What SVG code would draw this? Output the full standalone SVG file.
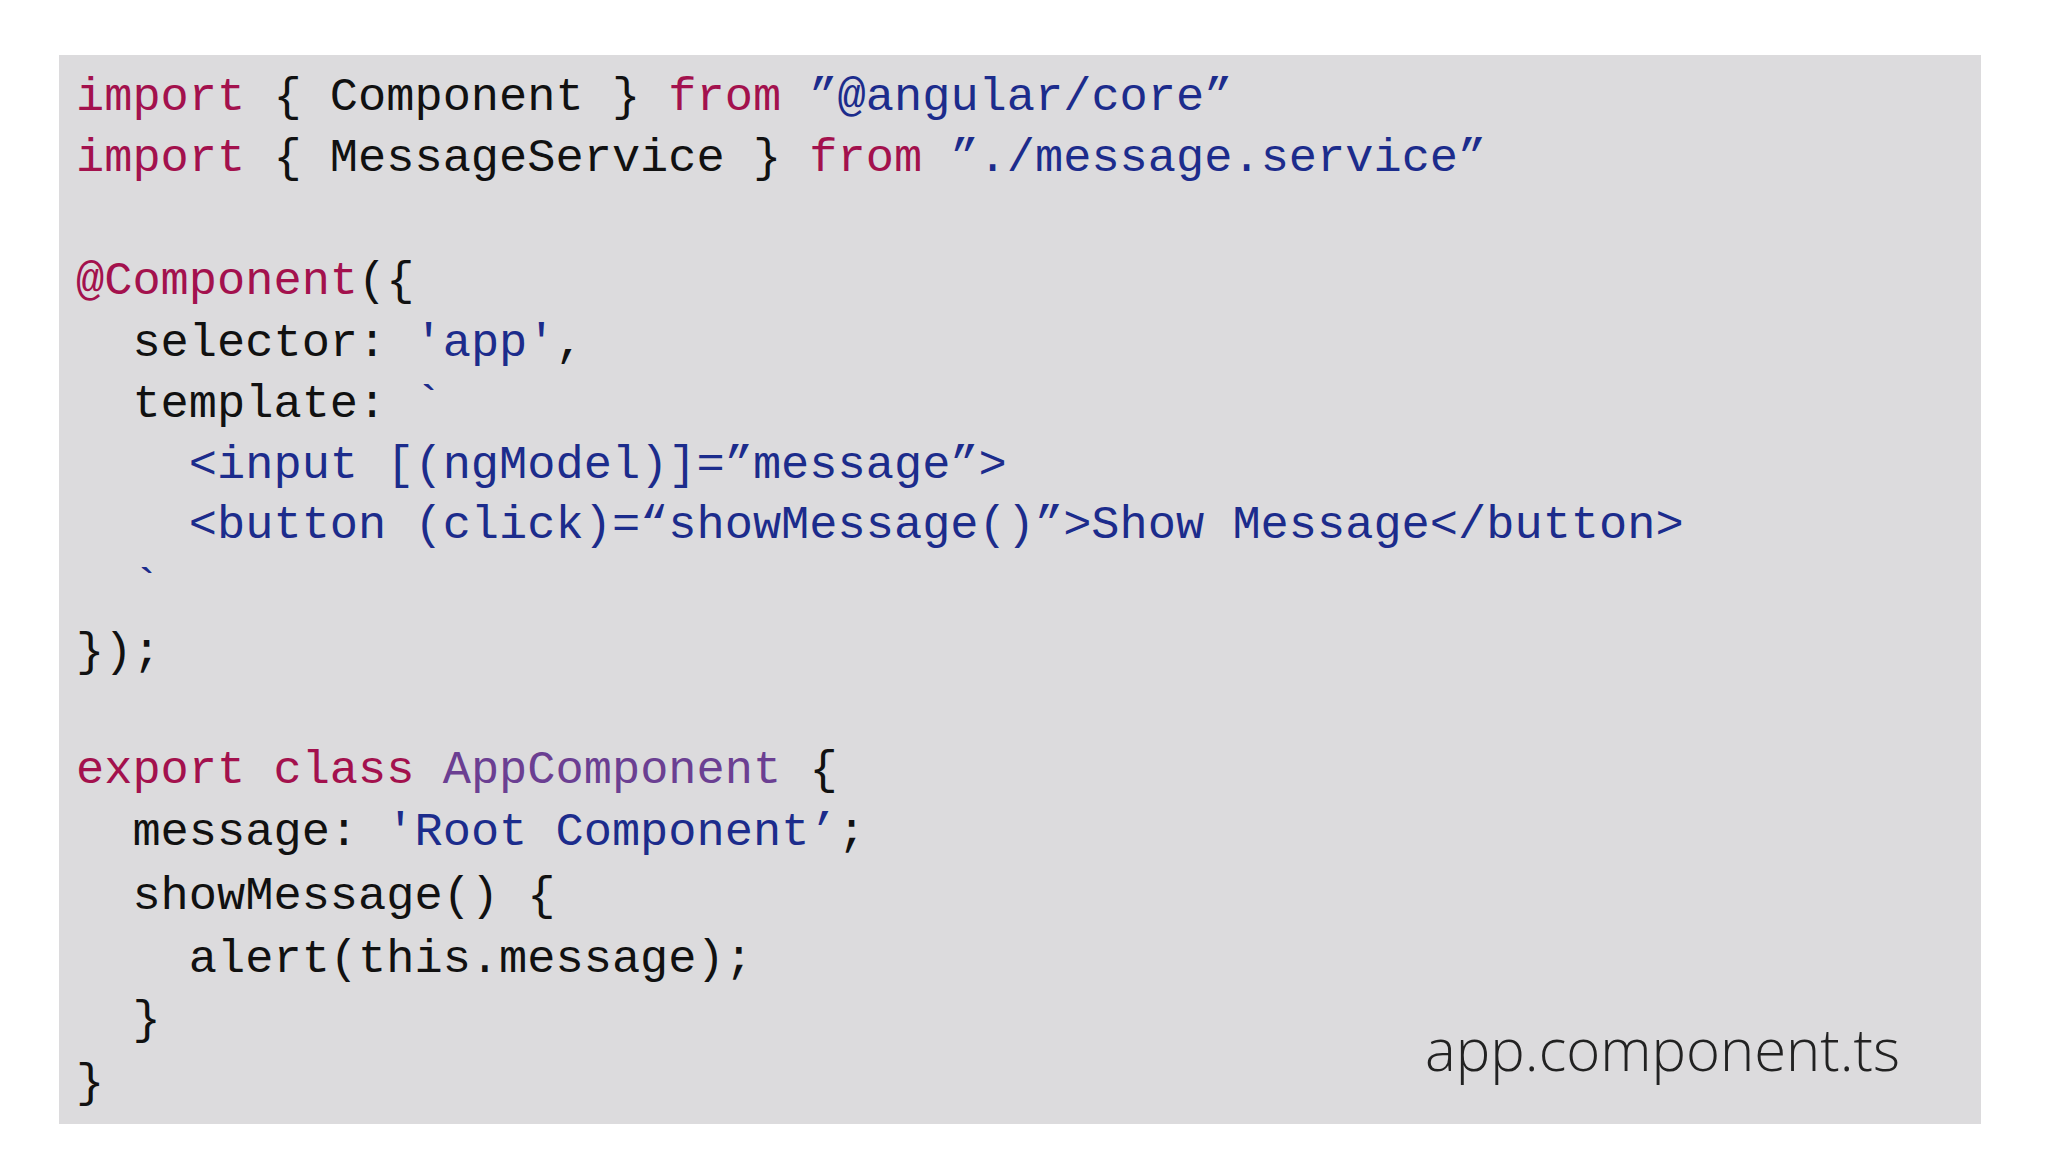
<svg xmlns="http://www.w3.org/2000/svg" width="2048" height="1152" viewBox="0 0 2048 1152">
<style>
.c{font-family:"Liberation Mono","DejaVu Sans Mono",monospace;font-size:47px;fill:#111;white-space:pre}
.k{fill:#a3114d}.s{fill:#1c2c8c}.p{fill:#6b3f92}
.f{font-family:"Open Sans","Liberation Sans",sans-serif;font-weight:300;font-size:58px;fill:#222}
</style>
<rect x="0" y="0" width="2048" height="1152" fill="#fff"/>
<rect x="59" y="55" width="1922" height="1069" fill="#dcdbdd"/>
<g id="code" xml:space="preserve">
<text class="c" x="76" y="110"><tspan class="k">import</tspan> { Component } <tspan class="k">from</tspan> <tspan class="s">”@angular/core”</tspan></text>
<text class="c" x="76" y="171"><tspan class="k">import</tspan> { MessageService } <tspan class="k">from</tspan> <tspan class="s">”./message.service”</tspan></text>
<text class="c" x="76" y="294"><tspan class="k">@Component</tspan>({</text>
<text class="c" x="76" y="356">  selector: <tspan class="s">'app'</tspan>,</text>
<text class="c" x="76" y="417">  template: <tspan class="s">`</tspan></text>
<text class="c s" x="76" y="478">    &lt;input [(ngModel)]=”message”&gt;</text>
<text class="c s" x="76" y="538">    &lt;button (click)=“showMessage()”&gt;Show Message&lt;/button&gt;</text>
<text class="c s" x="76" y="600">  `</text>
<text class="c" x="76" y="665">});</text>
<text class="c" x="76" y="783"><tspan class="k">export</tspan> <tspan class="k">class</tspan> <tspan class="p">AppComponent</tspan> {</text>
<text class="c" x="76" y="845">  message: <tspan class="s">'Root Component’</tspan>;</text>
<text class="c" x="76" y="909">  showMessage() {</text>
<text class="c" x="76" y="972">    alert(this.message);</text>
<text class="c" x="76" y="1033">  }</text>
<text class="c" x="76" y="1096">}</text>
</g>
<g id="label"><text class="f" x="1900" y="1071" text-anchor="end">app.component.ts</text></g>
</svg>
